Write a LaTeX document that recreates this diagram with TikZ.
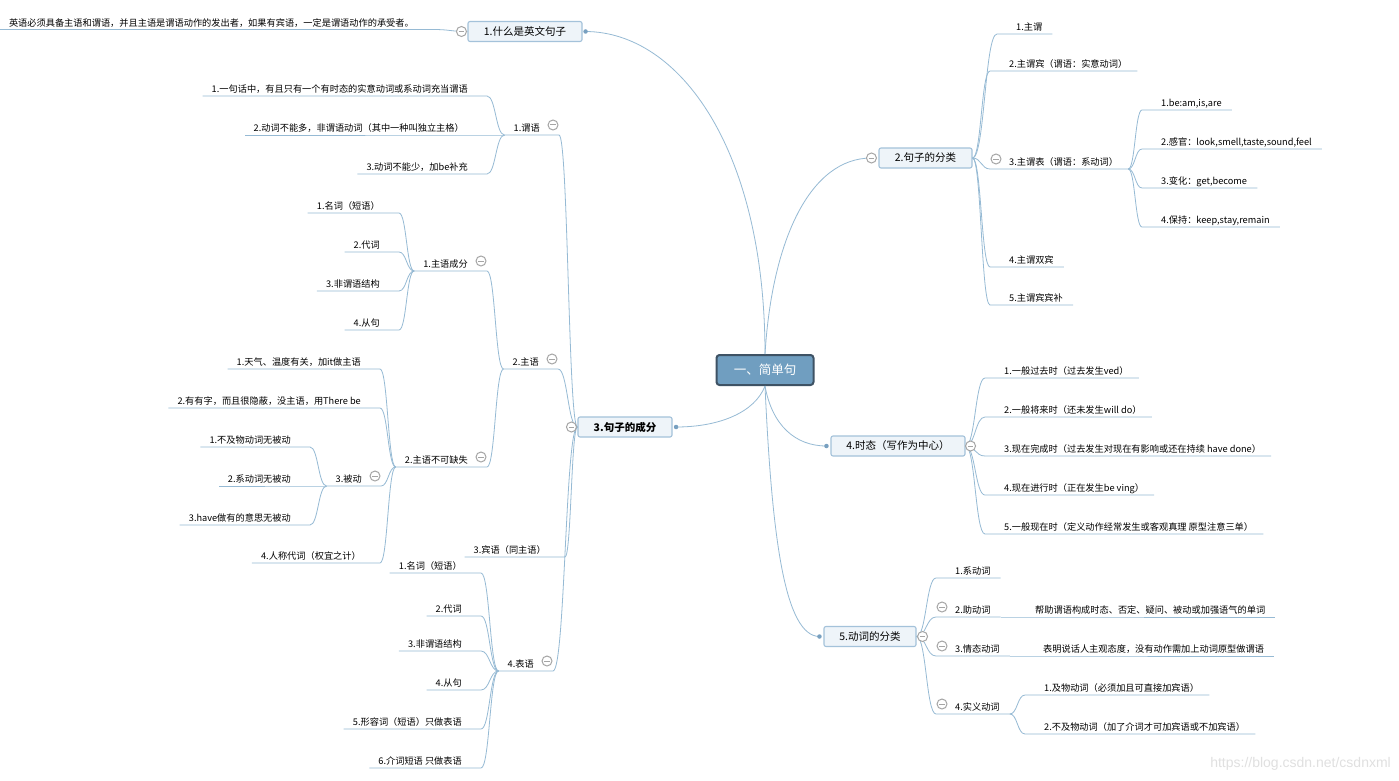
\documentclass[tikz,border=0pt]{standalone}
\usepackage{fontspec}
\setmainfont{Noto Sans CJK SC}
\newfontfamily\markfont{Liberation Sans}
\usepackage{tikz}
\usetikzlibrary{calc}

\definecolor{linkc}{RGB}{150,186,212}
\definecolor{topicfill}{RGB}{238,244,249}
\definecolor{topicline}{RGB}{164,194,218}
\definecolor{rootfill}{RGB}{112,158,192}
\definecolor{rootline}{RGB}{62,82,100}
\definecolor{foldc}{RGB}{165,165,165}
\definecolor{dotc}{RGB}{120,160,192}

\newcommand{\rootfont}{\fontsize{12.5}{15}\selectfont}
\newcommand{\topicfont}{\fontsize{10.5}{13}\selectfont}
\newcommand{\leaffont}{\fontsize{9.2}{11}\selectfont}

\tikzset{
  link/.style={draw=linkc, line width=0.8pt},
  root/.style={rounded corners=3pt, fill=rootfill, draw=rootline, line width=2pt, text=white,
    font=\rootfont, minimum width=97pt, minimum height=30pt},
  topic/.style={rounded corners=2pt, fill=topicfill, draw=topicline, line width=1.1pt,
    font=\topicfont, minimum height=20pt, inner sep=2pt},
  leaf/.style={font=\leaffont, inner xsep=0pt, inner ysep=1.5pt, text height=7pt, text depth=1.5pt},
  rleaf/.style={leaf, anchor=south west},
  lleaf/.style={leaf, anchor=south east},
  fold/.style={circle, draw=foldc, fill=white, line width=1pt, minimum size=10pt, inner sep=0pt,
    path picture={\draw[foldc, line width=1pt] ([xshift=-2.8pt]path picture bounding box.center)
      -- ([xshift=2.8pt]path picture bounding box.center);}},
  joint/.style={circle, fill=dotc, inner sep=0pt, minimum size=4.5pt}
}

% curved connector, parent point -> child on the right / on the left
\newcommand{\rlink}[2]{\draw[link] let \p1=(#1), \p2=([xshift=-19pt]#2.south west) in
  (\p1) .. controls ({0.5*\x1+0.5*\x2},\y1) and ({0.5*\x1+0.5*\x2},\y2) .. (\p2) -- ([xshift=10pt]#2.south east);}
\newcommand{\llink}[2]{\draw[link] let \p1=(#1), \p2=([xshift=19pt]#2.south east) in
  (\p1) .. controls ({0.5*\x1+0.5*\x2},\y1) and ({0.5*\x1+0.5*\x2},\y2) .. (\p2) -- ([xshift=-9pt]#2.south west);}

\begin{document}
\begin{tikzpicture}[x=1pt, y=-1pt]
\useasboundingbox (0,0) rectangle (1399,781);
\fill[white] (0,0) rectangle (1399,781);

%%%%% Root and main topics %%%%%
\node[root] (root) at (765,370) {一、简单句};
\node[topic, minimum width=114pt] (what) at (525,31.5) {1.什么是英文句子};
\node[topic, minimum width=93pt] (kinds) at (925.5,158) {2.句子的分类};
\node[topic, minimum width=94pt, font=\topicfont\bfseries] (parts) at (625,427) {3.句子的成分};
\node[topic, minimum width=134pt] (tense) at (898,446) {4.时态（写作为中心）};
\node[topic, minimum width=92pt] (verbs) at (870,636.5) {5.动词的分类};

\coordinate (whatP) at ([xshift=3pt]what.east);
\coordinate (kindsP) at ([xshift=-7pt]kinds.west);
\coordinate (partsP) at ([xshift=3.5pt]parts.east);
\coordinate (tenseP) at ([xshift=-4pt]tense.west);
\coordinate (verbsP) at ([xshift=-4pt]verbs.west);

\draw[link] (root.north) .. controls (765,150) and (680,32) .. (whatP);
\draw[link] (root.north) .. controls (772,240) and (810,158) .. (kindsP);
\draw[link] (root.south) .. controls (755,412) and (720,427) .. (partsP);
\draw[link] (root.south) .. controls (772,425) and (795,446) .. (tenseP);
\draw[link] (root.south) .. controls (772,540) and (785,636) .. (verbsP);

%%%%% 1 %%%%%
\node[lleaf] (def) at (414,29.5) {英语必须具备主语和谓语，并且主语是谓语动作的发出者，如果有宾语，一定是谓语动作的承受者。};
\llink{what.west}{def}

%%%%% 2 %%%%%
\node[rleaf] (kind1) at (1016,34) {1.主谓};
\foreach \y/\t [count=\i from 2] in {71/2.主谓宾（谓语：实意动词）, 169/3.主谓表（谓语：系动词）, 267/4.主谓双宾, 305/5.主谓宾宾补}{
  \node[rleaf] (kind\i) at (1009,\y) {\t};
}
\foreach \i in {1,...,5}{
  \rlink{kinds.east}{kind\i}
}
\foreach \t [count=\i] in {{1.be:am,is,are}, {2.感官：look,smell,taste,sound,feel}, {3.变化：get,become}, {4.保持：keep,stay,remain}}{
  \node[rleaf] (lv\i) at (1161,71+39*\i) {\t};
  \rlink{[xshift=10pt]kind3.south east}{lv\i}
}

%%%%% 4 %%%%%
\foreach \t [count=\i] in {1.一般过去时（过去发生ved）, 2.一般将来时（还未发生will do）, 3.现在完成时（过去发生对现在有影响或还在持续 have done）, 4.现在进行时（正在发生be ving）, 5.一般现在时（定义动作经常发生或客观真理 原型注意三单）}{
  \node[rleaf] (tn\i) at (1004,339+39*\i) {\t};
  \rlink{tense.east}{tn\i}
}

%%%%% 5 %%%%%
\foreach \y/\t [count=\i] in {578/1.系动词, 617/2.助动词, 656/3.情态动词, 714/4.实义动词}{
  \node[rleaf] (verb\i) at (955,\y) {\t};
  \rlink{verbs.east}{verb\i}
}
\node[rleaf] (aux) at (1035,617) {帮助谓语构成时态、否定、疑问、被动或加强语气的单词};
\rlink{[xshift=10pt]verb2.south east}{aux}
\node[rleaf] (modal) at (1043,656) {表明说话人主观态度，没有动作需加上动词原型做谓语};
\rlink{[xshift=10pt]verb3.south east}{modal}
\node[rleaf] (vt) at (1044,695) {1.及物动词（必须加且可直接加宾语）};
\node[rleaf] (vi) at (1044,734) {2.不及物动词（加了介词才可加宾语或不加宾语）};
\rlink{[xshift=10pt]verb4.south east}{vt}
\rlink{[xshift=10pt]verb4.south east}{vi}

%%%%% 3 %%%%%
\node[lleaf] (pred) at (540,135) {1.谓语};
\node[lleaf] (subj) at (539,369) {2.主语};
\node[lleaf] (obj) at (546,557) {3.宾语（同主语）};
\node[lleaf] (comp) at (534,671) {4.表语};
\foreach \nm in {pred,subj,obj,comp}{
  \llink{parts.west}{\nm}
}

\node[lleaf] (pred1) at (468,96) {1.一句话中，有且只有一个有时态的实意动词或系动词充当谓语};
\node[lleaf] (pred2) at (464,135) {2.动词不能多，非谓语动词（其中一种叫独立主格）};
\node[lleaf] (pred3) at (468,174) {3.动词不能少，加be补充};
\foreach \i in {1,2,3}{
  \llink{[xshift=-9pt]pred.south west}{pred\i}
}

\node[lleaf] (subjA) at (468,271) {1.主语成分};
\node[lleaf] (subjB) at (468,467) {2.主语不可缺失};
\llink{[xshift=-9pt]subj.south west}{subjA}
\llink{[xshift=-9pt]subj.south west}{subjB}
\foreach \t [count=\i] in {1.名词（短语）, 2.代词, 3.非谓语结构, 4.从句}{
  \node[lleaf] (subjA\i) at (380,174+39*\i) {\t};
  \llink{[xshift=-9pt]subjA.south west}{subjA\i}
}
\node[lleaf] (subjB1) at (361,369) {1.天气、温度有关，加it做主语};
\node[lleaf] (subjB2) at (361,408) {2.有有字，而且很隐蔽，没主语，用There be};
\node[lleaf] (subjB3) at (362,486) {3.被动};
\node[lleaf] (subjB4) at (361,563) {4.人称代词（权宜之计）};
\foreach \i in {1,...,4}{
  \llink{[xshift=-9pt]subjB.south west}{subjB\i}
}
\foreach \t [count=\i] in {1.不及物动词无被动, 2.系动词无被动, 3.have做有的意思无被动}{
  \node[lleaf] (pass\i) at (291,408+39*\i) {\t};
  \llink{[xshift=-9pt]subjB3.south west}{pass\i}
}

\foreach \y/\t [count=\i] in {573/1.名词（短语）, 616/2.代词, 651/3.非谓语结构, 690/4.从句, 729/5.形容词（短语）只做表语, 768/6.介词短语 只做表语}{
  \node[lleaf] (comp\i) at (462,\y) {\t};
  \llink{[xshift=-9pt]comp.south west}{comp\i}
}

%%%%% Dots and folds %%%%%
\node[joint] (whatJ) at (whatP) {};
\node[joint] (partsJ) at (partsP) {};
\node[joint] (tenseJ) at (tenseP) {};
\node[joint] (verbsJ) at (verbsP) {};
\node[fold] (whatF) at ([xshift=-6pt]what.west) {};
\node[fold] (kindsF) at (kindsP) {};
\node[fold] (partsF) at ([xshift=-6pt]parts.west) {};
\node[fold] (tenseF) at ([xshift=5pt]tense.east) {};
\node[fold] (verbsF) at ([xshift=6pt]verbs.east) {};
\foreach \nm in {kind3,verb2,verb3,verb4}{
  \node[fold] (\nm F) at ([xshift=-13pt,yshift=10pt]\nm.south west) {};
}
\foreach \nm in {pred,subj,subjA,subjB,subjB3,comp}{
  \node[fold] (\nm F) at ([xshift=13pt,yshift=10pt]\nm.south east) {};
}

\node[font=\markfont\fontsize{14}{16}\selectfont, text=black!12, anchor=south east, inner sep=0pt] (mark) at (1391,771) {https://blog.csdn.net/csdnxml};
\end{tikzpicture}
\end{document}
